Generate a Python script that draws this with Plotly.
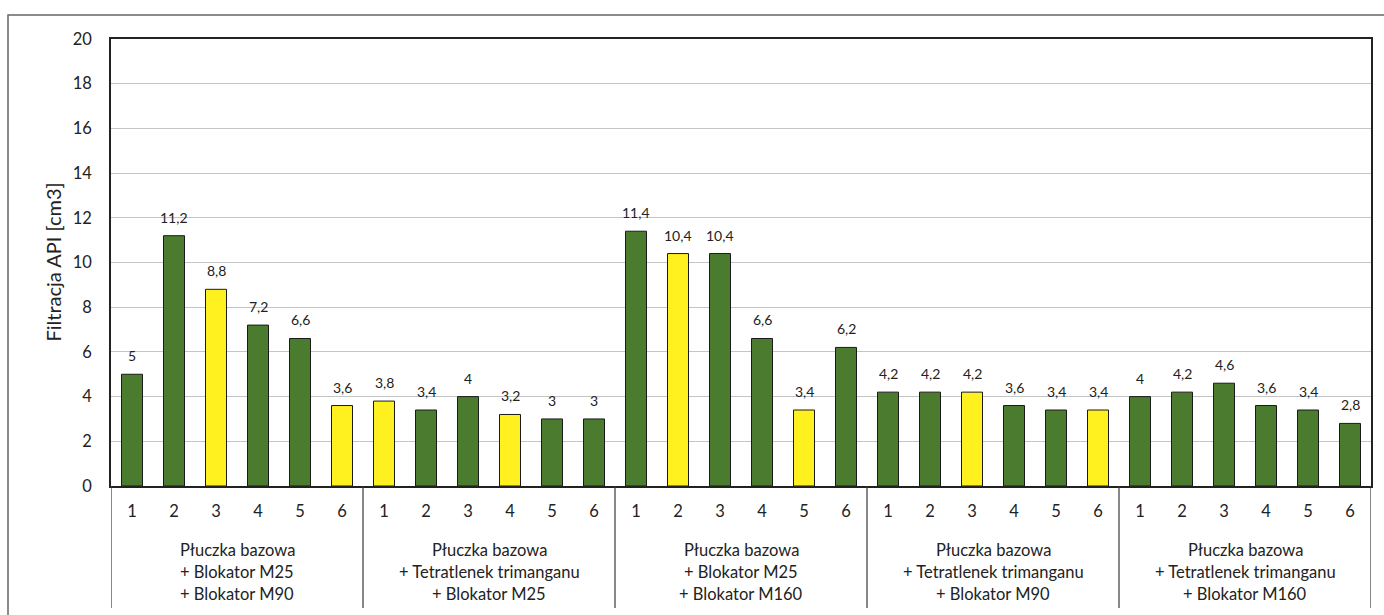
import plotly.graph_objects as go

# Filtration results (API) for five mud compositions, six samples each
groups = [
    ["Płuczka bazowa", "+ Blokator M25", "+ Blokator M90"],
    ["Płuczka bazowa", "+ Tetratlenek trimanganu", "+ Blokator M25"],
    ["Płuczka bazowa", "+ Blokator M25", "+ Blokator M160"],
    ["Płuczka bazowa", "+ Tetratlenek trimanganu", "+ Blokator M90"],
    ["Płuczka bazowa", "+ Tetratlenek trimanganu", "+ Blokator M160"],
]
samples = ["1", "2", "3", "4", "5", "6"]

values_g1 = [5, 11.2, 8.8, 7.2, 6.6, 3.6]
values_g2 = [3.8, 3.4, 4, 3.2, 3, 3]
values_g3 = [11.4, 10.4, 10.4, 6.6, 3.4, 6.2]
values_g4 = [4.2, 4.2, 4.2, 3.6, 3.4, 3.4]
values_g5 = [4, 4.2, 4.6, 3.6, 3.4, 2.8]

# 1 = highlighted (yellow) sample, 0 = regular (green)
highlight_g1 = [0, 0, 1, 0, 0, 1]
highlight_g2 = [1, 0, 0, 1, 0, 0]
highlight_g3 = [0, 1, 0, 0, 1, 0]
highlight_g4 = [0, 0, 1, 0, 0, 1]
highlight_g5 = [0, 0, 0, 0, 0, 0]

all_values = [values_g1, values_g2, values_g3, values_g4, values_g5]
all_highlight = [highlight_g1, highlight_g2, highlight_g3, highlight_g4, highlight_g5]

GREEN = "#4a7b2f"
YELLOW = "#fff01f"
FONT = "Lato, 'Open Sans', sans-serif"

n = len(samples)
xs, ys, cols, ticktext = [], [], [], []
for g, (vals, hl) in enumerate(zip(all_values, all_highlight)):
    for i, (v, h) in enumerate(zip(vals, hl)):
        xs.append(g * n + i)
        ys.append(v)
        cols.append(YELLOW if h else GREEN)
        ticktext.append(samples[i])

fig = go.Figure()
fig.add_trace(go.Bar(
    x=xs, y=ys, width=0.5,
    marker=dict(color=cols, line=dict(color="#1a1a1a", width=1)),
    hoverinfo="x+y",
))

# value labels above bars
for x, v in zip(xs, ys):
    label = f"{v:g}".replace(".", ",")
    fig.add_annotation(x=x, y=v, text=label, showarrow=False,
                       yanchor="bottom", yshift=8,
                       font=dict(family=FONT, size=14, color="#222"))

# plot-area geometry in pixels (used for paper-coordinate conversions)
L, R, T, B = 111, 1371, 39, 486
H = B - T
W = R - L

def py(pix):
    return (B - pix) / H

def px(pix):
    return (pix - L) / W

# group labels, one annotation per line
line_y = [550, 572, 594]
for g, lines in enumerate(groups):
    cx = g * n + (n - 1) / 2
    for ln, yy in zip(lines, line_y):
        fig.add_annotation(x=cx, xref="x", y=py(yy), yref="paper", text=ln,
                           showarrow=False, yanchor="middle",
                           font=dict(family=FONT, size=16.5, color="#222"))

# dividers between groups below the axis
for k in range(len(groups) + 1):
    fig.add_shape(type="line", xref="x", yref="paper",
                  x0=k * n - 0.5, x1=k * n - 0.5, y0=0, y1=py(608),
                  line=dict(color="#3a3a3a", width=1.2))

# outer chart frame
fig.add_shape(type="rect", xref="paper", yref="paper",
              x0=px(8), x1=px(1400), y0=py(15), y1=py(630),
              line=dict(color="#666", width=1.5), layer="below")

# y-axis title placed as rotated text
fig.add_annotation(x=px(52), xref="paper", y=0.5, yref="paper",
                   text="Filtracja API [cm3]", textangle=-90, showarrow=False,
                   xanchor="center", yanchor="middle",
                   font=dict(family=FONT, size=20, color="#222"))

fig.update_layout(
    width=1384, height=615,
    margin=dict(l=L, r=1384 - R, t=T, b=615 - B),
    paper_bgcolor="white", plot_bgcolor="white",
    showlegend=False, bargap=0.5,
    font=dict(family=FONT, color="#222"),
    xaxis=dict(
        range=[-0.5, len(xs) - 0.5],
        tickvals=xs, ticktext=ticktext, ticks="",
        tickfont=dict(family=FONT, size=16.5, color="#222"),
        ticklabelstandoff=9,
        showgrid=False, zeroline=False,
        showline=True, linecolor="#222", linewidth=1.5, mirror=True,
    ),
    yaxis=dict(
        range=[0, 20], dtick=2, ticks="",
        tickfont=dict(family=FONT, size=16.5, color="#222"),
        ticklabelstandoff=14,
        showgrid=True, gridcolor="#c4c4c4", gridwidth=1.2,
        zeroline=False,
        showline=True, linecolor="#222", linewidth=1.5, mirror=True,
    ),
)

fig.write_html("out.html")
